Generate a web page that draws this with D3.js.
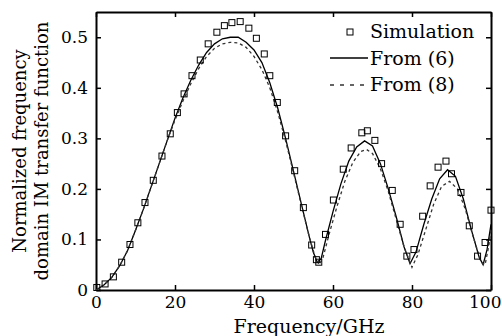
<!DOCTYPE html>
<html>
<head>
<meta charset="utf-8">
<script src="https://cdn.jsdelivr.net/npm/d3@7"></script>
<style>
  body { margin: 0; background: #fff; }
  svg text { font-family: "DejaVu Serif", serif; fill: #000; }
</style>
</head>
<body>
<div id="chart"></div>
<script>
// simulation points (GHz, value)
const simFreq = [0.2, 2.3, 4.4, 6.5, 8.6, 10.6, 12.4, 14.5, 16.7, 18.8, 20.6, 22.3, 24.3, 26.4, 28.4, 30.6, 32.5, 34.4, 36.5, 38.7, 40.6, 42.6, 44, 45.9, 48, 50.3, 52.5, 54.6, 55.8, 56.4, 58.1, 60.1, 62.6, 64.6, 67.3, 68.7, 70.6, 72.3, 75, 77, 78.7, 80.5, 82.7, 84.6, 86.6, 88.6, 90, 92.4, 94.5, 96.6, 98.5, 100];
const simVal = [0.005, 0.012, 0.026, 0.055, 0.09, 0.133, 0.173, 0.217, 0.265, 0.309, 0.351, 0.388, 0.424, 0.455, 0.487, 0.51, 0.523, 0.529, 0.531, 0.518, 0.498, 0.467, 0.424, 0.371, 0.305, 0.236, 0.163, 0.089, 0.06, 0.055, 0.11, 0.178, 0.239, 0.281, 0.311, 0.315, 0.296, 0.25, 0.197, 0.13, 0.067, 0.08, 0.146, 0.206, 0.243, 0.255, 0.23, 0.193, 0.127, 0.067, 0.094, 0.158];

// From (6), solid
const eq6Freq = [0, 2, 4, 6, 8, 10, 12, 14, 16, 18, 20, 22, 24, 26, 28, 30, 32, 34, 36, 38, 40, 42, 44, 46, 48, 50, 52, 54, 55, 56, 57, 58, 60, 62, 64, 66, 68, 70, 72, 74, 76, 78, 79.5, 81, 83, 85, 87, 89, 91, 93, 95, 97, 98, 99, 100];
const eq6Val = [0, 0.01, 0.025, 0.048, 0.078, 0.118, 0.16, 0.205, 0.25, 0.295, 0.34, 0.38, 0.415, 0.445, 0.47, 0.487, 0.497, 0.5, 0.5, 0.49, 0.475, 0.45, 0.41, 0.36, 0.3, 0.235, 0.17, 0.105, 0.075, 0.055, 0.062, 0.095, 0.155, 0.21, 0.255, 0.283, 0.295, 0.285, 0.25, 0.2, 0.145, 0.085, 0.052, 0.075, 0.13, 0.18, 0.22, 0.238, 0.225, 0.18, 0.12, 0.065, 0.05, 0.08, 0.13];

// From (8), dashed
const eq8Freq = [0, 2, 4, 6, 8, 10, 12, 14, 16, 18, 20, 22, 24, 26, 28, 30, 32, 34, 36, 38, 40, 42, 44, 46, 48, 50, 52, 54, 55.5, 56.5, 57.5, 59, 61, 63, 65, 67, 68.5, 70, 72, 74, 76, 78, 80, 81.5, 83.5, 85.5, 87.5, 89.5, 91.5, 93.5, 95.5, 97.5, 98.5, 99.5, 100];
const eq8Val = [0, 0.01, 0.025, 0.048, 0.078, 0.118, 0.16, 0.205, 0.25, 0.295, 0.336, 0.374, 0.408, 0.438, 0.462, 0.478, 0.487, 0.49, 0.489, 0.48, 0.462, 0.436, 0.4, 0.352, 0.295, 0.232, 0.168, 0.105, 0.065, 0.05, 0.065, 0.11, 0.165, 0.215, 0.252, 0.274, 0.278, 0.27, 0.24, 0.195, 0.14, 0.085, 0.045, 0.07, 0.12, 0.17, 0.205, 0.215, 0.2, 0.16, 0.105, 0.055, 0.05, 0.09, 0.12];

const xTicks = [0, 20, 40, 60, 80, 100];
const yTicks = [0, 0.1, 0.2, 0.3, 0.4, 0.5];
const legendNames = ["Simulation", "From (6)", "From (8)"];

const width = 502, height = 336;
const margin = { top: 12, right: 11, bottom: 46, left: 96 };

const svg = d3.select("#chart").append("svg")
    .attr("width", width)
    .attr("height", height);

const x = d3.scaleLinear().domain([0, 100]).range([margin.left, width - margin.right]);
const y = d3.scaleLinear().domain([0, 0.55]).range([height - margin.bottom, margin.top]);

const fmt = d => d === 0 ? "0" : d3.format(".1f")(d);

// axes, ticks pointing inward on all four sides
const axB = svg.append("g")
    .attr("transform", `translate(0,${y(0)})`)
    .call(d3.axisBottom(x).tickValues(xTicks).tickSizeInner(-5).tickSizeOuter(0).tickPadding(6).tickFormat(d3.format("d")));
const axL = svg.append("g")
    .attr("transform", `translate(${x(0)},0)`)
    .call(d3.axisLeft(y).tickValues(yTicks).tickSizeInner(-5).tickSizeOuter(0).tickPadding(8).tickFormat(fmt));
const axT = svg.append("g")
    .attr("transform", `translate(0,${y(0.55)})`)
    .call(d3.axisTop(x).tickValues(xTicks).tickSizeInner(-5).tickSizeOuter(0).tickFormat(""));
const axR = svg.append("g")
    .attr("transform", `translate(${x(100)},0)`)
    .call(d3.axisRight(y).tickValues(yTicks).tickSizeInner(-5).tickSizeOuter(0).tickFormat(""));

[axB, axL, axT, axR].forEach(a => {
    a.select(".domain").attr("stroke", "#000").attr("stroke-width", 2);
    a.selectAll(".tick line").attr("stroke", "#000").attr("stroke-width", 1.5);
    a.selectAll(".tick text").attr("font-size", 17).attr("font-family", "DejaVu Serif");
});
// last label pulled in so it stays on the page
axB.selectAll(".tick text").filter(d => d === 100).attr("text-anchor", "end").attr("dx", 10);

// lines
const line = d3.line().x(d => x(d[0])).y(d => y(d[1]));

svg.append("path")
    .datum(eq6Freq.map((f, i) => [f, eq6Val[i]]))
    .attr("fill", "none")
    .attr("stroke", "#000")
    .attr("stroke-width", 1.3)
    .attr("d", line);

svg.append("path")
    .datum(eq8Freq.map((f, i) => [f, eq8Val[i]]))
    .attr("fill", "none")
    .attr("stroke", "#333")
    .attr("stroke-width", 1.3)
    .attr("stroke-dasharray", "3,3")
    .attr("d", line);

// simulation markers
svg.selectAll(".sim")
    .data(simFreq.map((f, i) => [f, simVal[i]]))
    .enter()
    .append("rect")
    .attr("x", d => x(d[0]) - 3)
    .attr("y", d => y(d[1]) - 3)
    .attr("width", 6)
    .attr("height", 6)
    .attr("fill", "none")
    .attr("stroke", "#000")
    .attr("stroke-width", 1);

// legend
const lg = svg.append("g").attr("font-size", 19);
lg.append("rect")
    .attr("x", 347).attr("y", 29).attr("width", 6).attr("height", 6)
    .attr("fill", "none").attr("stroke", "#000").attr("stroke-width", 1);
lg.append("line")
    .attr("x1", 330).attr("x2", 368).attr("y1", 58).attr("y2", 58)
    .attr("stroke", "#000").attr("stroke-width", 1.3);
lg.append("line")
    .attr("x1", 330).attr("x2", 368).attr("y1", 85).attr("y2", 85)
    .attr("stroke", "#333").attr("stroke-width", 1.3).attr("stroke-dasharray", "4,6");
lg.selectAll(".lt")
    .data(legendNames)
    .enter()
    .append("text")
    .attr("x", 370)
    .attr("y", (d, i) => [38, 65, 91][i])
    .text(d => d);

// axis titles
svg.append("text")
    .attr("x", 309)
    .attr("y", 333)
    .attr("text-anchor", "middle")
    .attr("font-size", 19)
    .text("Frequency/GHz");

const cy = (y(0) + y(0.55)) / 2;
svg.append("text")
    .attr("transform", `translate(26,${cy}) rotate(-90)`)
    .attr("text-anchor", "middle")
    .attr("font-size", 18)
    .text("Normalized frequency");
svg.append("text")
    .attr("transform", `translate(48,${cy}) rotate(-90)`)
    .attr("text-anchor", "middle")
    .attr("font-size", 18)
    .text("domain IM transfer function");
</script>
</body>
</html>
